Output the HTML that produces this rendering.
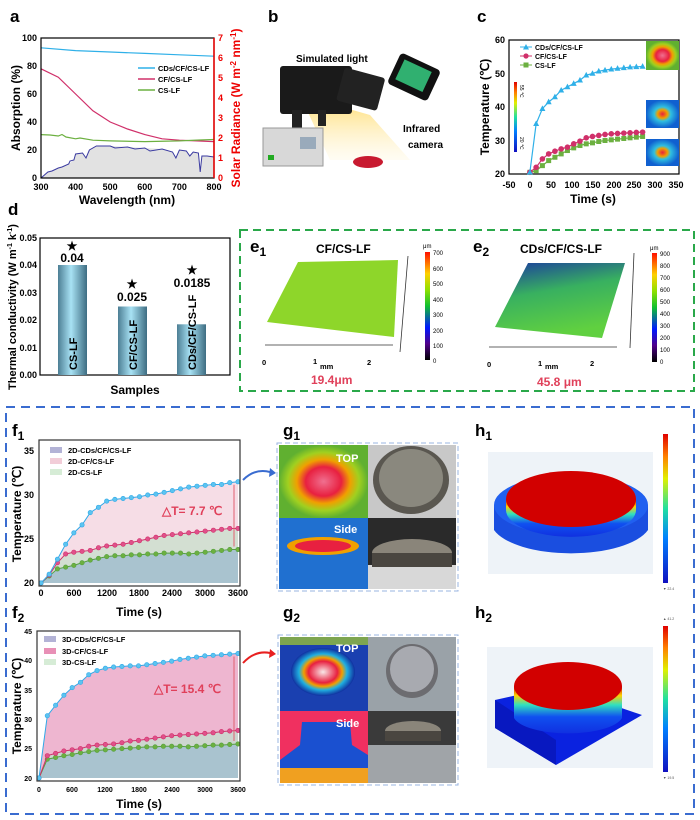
<!DOCTYPE html>
<html><head><meta charset="utf-8"><style>
body{margin:0;background:#fff}
svg{display:block;font-family:"Liberation Sans",Arial,sans-serif}
.t{font-size:9px;font-weight:bold}
.L{font-size:17px;font-weight:bold}
</style></head><body>
<svg id="s" width="700" height="820" viewBox="0 0 700 820" xmlns="http://www.w3.org/2000/svg">
<defs>
<linearGradient id="bar" x1="0" x2="1"><stop offset="0" stop-color="#4d7f95"/><stop offset=".45" stop-color="#a8e2f4"/><stop offset="1" stop-color="#3e6d82"/></linearGradient>
<linearGradient id="jet" x1="0" y1="1" x2="0" y2="0"><stop offset="0" stop-color="#000"/><stop offset=".15" stop-color="#50008a"/><stop offset=".3" stop-color="#0018ff"/><stop offset=".5" stop-color="#10c030"/><stop offset=".65" stop-color="#8fe000"/><stop offset=".8" stop-color="#ffd000"/><stop offset="1" stop-color="#ff1000"/></linearGradient>
<linearGradient id="jet2" x1="0" y1="1" x2="0" y2="0"><stop offset="0" stop-color="#1010c0"/><stop offset=".3" stop-color="#0080ff"/><stop offset=".5" stop-color="#20e0a0"/><stop offset=".7" stop-color="#e0f000"/><stop offset=".85" stop-color="#ff8000"/><stop offset="1" stop-color="#e00000"/></linearGradient>
<linearGradient id="side" x1="0" y1="0" x2="0" y2="1"><stop offset="0" stop-color="#d00000"/><stop offset=".2" stop-color="#ffd000"/><stop offset=".4" stop-color="#30e0c0"/><stop offset=".65" stop-color="#1050f0"/><stop offset="1" stop-color="#1030e0"/></linearGradient>
<linearGradient id="e2g" x1="0" y1="0" x2="0.3" y2="1"><stop offset="0" stop-color="#1a3aa0"/><stop offset=".45" stop-color="#38b060"/><stop offset="1" stop-color="#60d040"/></linearGradient>
<radialGradient id="ir1"><stop offset="0" stop-color="#f07090"/><stop offset=".4" stop-color="#e82040"/><stop offset=".6" stop-color="#f0a000"/><stop offset=".8" stop-color="#a0d020"/><stop offset="1" stop-color="#60b030"/></radialGradient>
<radialGradient id="ir2"><stop offset="0" stop-color="#f8e8e8"/><stop offset=".45" stop-color="#e82040"/><stop offset=".6" stop-color="#f0a000"/><stop offset=".75" stop-color="#20b0e0"/><stop offset="1" stop-color="#1030a0"/></radialGradient>
<radialGradient id="ir3" cx=".5" cy=".5" r=".5"><stop offset="0" stop-color="#e82040"/><stop offset=".3" stop-color="#f0a000"/><stop offset=".5" stop-color="#30c0e0"/><stop offset="1" stop-color="#1060d0"/></radialGradient>
<linearGradient id="cone" x1="0" y1="0" x2="0" y2="1"><stop offset="0" stop-color="#ffd040"/><stop offset="1" stop-color="#fff4d0" stop-opacity=".3"/></linearGradient>
</defs>

<text x="10" y="22" class="L">a</text><text x="268" y="22" class="L">b</text><text x="477" y="22" class="L">c</text>
<text x="8" y="215" class="L">d</text>
<text x="250" y="252" class="L">e<tspan font-size="12" dy="4">1</tspan></text>
<text x="473" y="252" class="L">e<tspan font-size="12" dy="4">2</tspan></text>
<text x="12" y="436" class="L">f<tspan font-size="12" dy="4">1</tspan></text>
<text x="283" y="436" class="L">g<tspan font-size="12" dy="4">1</tspan></text>
<text x="475" y="436" class="L">h<tspan font-size="12" dy="4">1</tspan></text>
<text x="12" y="618" class="L">f<tspan font-size="12" dy="4">2</tspan></text>
<text x="283" y="618" class="L">g<tspan font-size="12" dy="4">2</tspan></text>
<text x="475" y="618" class="L">h<tspan font-size="12" dy="4">2</tspan></text>

<!-- Panel a -->
<g id="pa">
<polygon fill="#e2e2e2" points="41,178 47.9,172 58.3,168 68.7,164 73.9,160 75.6,154 82.5,153 86,158 89.4,150 96.4,146 110.2,146 127.5,147 144.8,148 162.1,149 172.5,152 175.9,158 179.4,150 186.3,151 189.8,156 193.2,152 198.4,153 200.2,172 201.9,156 207.1,156 214,157 214,178"/>
<polyline fill="none" stroke="#3a3aa0" stroke-width="1" points="41,178 47.9,172 52,171 58.3,168 62,167 68.7,164 70,161 73.9,160 75.6,154 82.5,153 86,158 89.4,150 96.4,146 110.2,146 115,148 127.5,147 135,149 144.8,148 150,151 162.1,149 172.5,152 175.9,158 179.4,150 186.3,151 189.8,156 193.2,152 198.4,153 200.2,172 201.9,156 207.1,156 214,157"/>
<polyline fill="none" stroke="#2fb0e8" stroke-width="1.2" points="41,47.8 75.6,50.6 110.2,52 144.8,53.4 179.4,54.8 214,56.2"/>
<polyline fill="none" stroke="#d0306a" stroke-width="1.2" points="41,68.8 58.3,77.2 75.6,94 92.9,110.8 110.2,122 127.5,129 144.8,134.6 162.1,138.8 179.4,140.2 214,141.6"/>
<polyline fill="none" stroke="#6cb040" stroke-width="1.2" points="41,134.6 50,135 58.3,136 62,134.5 66,137 75.6,138.8 80,138 92.9,140.2 110.2,140.9 144.8,141.6 179.4,140.9 200,140 214,139.5"/>
<rect x="41" y="38" width="173" height="140" fill="none" stroke="#000" stroke-width="1.2"/>
<line x1="214" y1="38" x2="214" y2="178" stroke="#e00" stroke-width="1.5"/>
<g class="t" text-anchor="end"><text x="37" y="41">100</text><text x="37" y="69">80</text><text x="37" y="97">60</text><text x="37" y="125">40</text><text x="37" y="153">20</text><text x="37" y="181">0</text></g>
<g class="t" fill="#e00"><text x="218" y="181">0</text><text x="218" y="161">1</text><text x="218" y="141">2</text><text x="218" y="121">3</text><text x="218" y="101">4</text><text x="218" y="81">5</text><text x="218" y="61">6</text><text x="218" y="41">7</text></g>
<g class="t" text-anchor="middle"><text x="41" y="190">300</text><text x="75.6" y="190">400</text><text x="110.2" y="190">500</text><text x="144.8" y="190">600</text><text x="179.4" y="190">700</text><text x="214" y="190">800</text></g>
<text x="127" y="204" text-anchor="middle" font-size="12" font-weight="bold">Wavelength (nm)</text>
<text transform="translate(20,108) rotate(-90)" text-anchor="middle" font-size="12" font-weight="bold">Absorption (%)</text>
<text transform="translate(240,108) rotate(-90)" text-anchor="middle" font-size="12" font-weight="bold" fill="#e00">Solar Radiance (W m<tspan font-size="8" dy="-4">-2</tspan><tspan dy="4"> nm</tspan><tspan font-size="8" dy="-4">-1</tspan><tspan dy="4">)</tspan></text>
<g font-size="7.5" font-weight="bold"><line x1="138" y1="68" x2="155" y2="68" stroke="#2fb0e8" stroke-width="1.5"/><text x="158" y="71">CDs/CF/CS-LF</text>
<line x1="138" y1="79" x2="155" y2="79" stroke="#d0306a" stroke-width="1.5"/><text x="158" y="82">CF/CS-LF</text>
<line x1="138" y1="90" x2="155" y2="90" stroke="#6cb040" stroke-width="1.5"/><text x="158" y="93">CS-LF</text></g>
</g>

<!-- Panel b -->
<g>
<text x="296" y="62" font-size="10" font-weight="bold">Simulated light</text>
<polygon points="300,95 370,115 410,160 330,160" fill="url(#cone)" opacity=".8"/>
<rect x="280" y="66" width="72" height="48" rx="3" fill="#1a1a1a"/>
<rect x="340" y="72" width="42" height="34" rx="3" fill="#222" transform="rotate(15 360 88)"/>
<rect x="292" y="110" width="10" height="18" fill="#222"/><rect x="318" y="110" width="8" height="16" fill="#222"/>
<rect x="263" y="128" width="60" height="38" fill="#d8d8d8" stroke="#999"/>
<rect x="300" y="137" width="16" height="12" fill="#9ab"/>
<rect x="268" y="155" width="6" height="5" fill="#2a2"/>
<ellipse cx="368" cy="162" rx="15" ry="6" fill="#c81a30"/>
<rect x="392" y="60" width="44" height="34" rx="4" fill="#111" transform="rotate(25 414 77)"/>
<rect x="398" y="65" width="30" height="22" fill="#30b070" transform="rotate(25 414 77)"/>
<text x="403" y="132" font-size="10" font-weight="bold">Infrared</text>
<text x="408" y="148" font-size="10" font-weight="bold">camera</text>
</g>

<!-- Panel c -->
<g>
<rect x="509" y="40" width="170" height="134" fill="none" stroke="#000" stroke-width="1.2"/>
<g id="cl"></g>
<rect x="646" y="41" width="33" height="29" fill="url(#ir1)"/>
<rect x="646" y="100" width="33" height="28" fill="url(#ir3)"/>
<rect x="646" y="139" width="33" height="27" fill="url(#ir3)"/>
<rect x="514" y="82" width="3" height="70" fill="url(#jet2)"/>
<text x="520" y="85" font-size="5" transform="rotate(90 520 85)">55 ℃</text>
<text x="520" y="137" font-size="5" transform="rotate(90 520 137)">20 ℃</text>
<g class="t" text-anchor="end"><text x="505" y="43">60</text><text x="505" y="77">50</text><text x="505" y="110">40</text><text x="505" y="144">30</text><text x="505" y="177">20</text></g>
<g class="t" text-anchor="middle"><text x="509" y="188">-50</text><text x="530" y="188">0</text><text x="551" y="188">50</text><text x="572" y="188">100</text><text x="593" y="188">150</text><text x="614" y="188">200</text><text x="634" y="188">250</text><text x="655" y="188">300</text><text x="676" y="188">350</text></g>
<text x="593" y="203" text-anchor="middle" font-size="12" font-weight="bold">Time (s)</text>
<text transform="translate(489,107) rotate(-90)" text-anchor="middle" font-size="12" font-weight="bold">Temperature (℃)</text>
<g font-size="7" font-weight="bold"><text x="535" y="50">CDs/CF/CS-LF</text><text x="535" y="59">CF/CS-LF</text><text x="535" y="68">CS-LF</text></g>
</g>

<!-- Panel d -->
<g>
<rect x="40" y="238" width="190" height="137" fill="none" stroke="#000" stroke-width="1.2"/>
<rect x="58" y="265" width="29" height="110" fill="url(#bar)"/>
<rect x="118" y="306.5" width="29" height="68.5" fill="url(#bar)"/>
<rect x="177" y="324.3" width="29" height="50.7" fill="url(#bar)"/>
<g class="t" text-anchor="end"><text x="37" y="241">0.05</text><text x="37" y="268">0.04</text><text x="37" y="296">0.03</text><text x="37" y="323">0.02</text><text x="37" y="351">0.01</text><text x="37" y="378">0.00</text></g>
<g font-size="12" font-weight="bold" text-anchor="middle"><text x="72" y="262">0.04</text><text x="132" y="301">0.025</text><text x="192" y="287">0.0185</text>
<text x="72" y="250">★</text><text x="132" y="288">★</text><text x="192" y="274">★</text></g>
<g font-size="11" font-weight="bold"><text transform="translate(77,370) rotate(-90)">CS-LF</text><text transform="translate(137,370) rotate(-90)">CF/CS-LF</text><text transform="translate(196,370) rotate(-90)">CDs/CF/CS-LF</text></g>
<text x="135" y="394" text-anchor="middle" font-size="12" font-weight="bold">Samples</text>
<text transform="translate(16,307) rotate(-90)" text-anchor="middle" font-size="11" font-weight="bold">Thermal conductivity (W m<tspan font-size="7" dy="-4">-1</tspan><tspan dy="4"> k</tspan><tspan font-size="7" dy="-4">-1</tspan><tspan dy="4">)</tspan></text>
</g>

<!-- Panel e -->
<rect x="240" y="230" width="454" height="161" fill="none" stroke="#2aa84a" stroke-width="2" stroke-dasharray="8,5"/>
<text x="316" y="253" font-size="12" font-weight="bold">CF/CS-LF</text>
<text x="520" y="253" font-size="12" font-weight="bold">CDs/CF/CS-LF</text>
<polygon points="298,262 398,260 394,337 267,322" fill="#8ed62a"/>
<polygon points="528,263 625,263 602,338 495,327" fill="url(#e2g)"/>
<g stroke="#333" stroke-width=".8" fill="none">
<line x1="265" y1="345" x2="393" y2="345"/><line x1="489" y1="347" x2="617" y2="347"/>
<line x1="408" y1="256" x2="400" y2="352"/><line x1="634" y1="253" x2="630" y2="348"/>
</g>
<rect x="425" y="252" width="5" height="108" fill="url(#jet)"/>
<rect x="652" y="253" width="5" height="109" fill="url(#jet)"/>
<g font-size="6" ><text x="433" y="255">700</text><text x="433" y="271">600</text><text x="433" y="286">500</text><text x="433" y="302">400</text><text x="433" y="317">300</text><text x="433" y="333">200</text><text x="433" y="348">100</text><text x="433" y="363">0</text><text x="423" y="248">μm</text>
<text x="660" y="256">900</text><text x="660" y="268">800</text><text x="660" y="280">700</text><text x="660" y="292">600</text><text x="660" y="304">500</text><text x="660" y="316">400</text><text x="660" y="328">300</text><text x="660" y="340">200</text><text x="660" y="352">100</text><text x="660" y="364">0</text><text x="650" y="250">μm</text></g>
<g font-size="7.5" font-weight="bold"><text x="262" y="365">0</text><text x="313" y="364">1</text><text x="320" y="369">mm</text><text x="367" y="365">2</text>
<text x="487" y="367">0</text><text x="538" y="366">1</text><text x="545" y="369">mm</text><text x="590" y="366">2</text></g>
<text x="311" y="384" font-size="12" font-weight="bold" fill="#e0405a">19.4μm</text>
<text x="537" y="386" font-size="12" font-weight="bold" fill="#e0405a">45.8 μm</text>

<rect x="6" y="407" width="688" height="407" fill="none" stroke="#3a6cd0" stroke-width="2" stroke-dasharray="9,6"/>

<g id="f1g"></g>
<g id="f2g"></g>
<g font-size="7.5" font-weight="bold"><text x="68" y="453">2D-CDs/CF/CS-LF</text><text x="68" y="464">2D-CF/CS-LF</text><text x="68" y="475">2D-CS-LF</text>
<rect x="50" y="447" width="12" height="6" fill="#b3b3d6"/><rect x="50" y="458" width="12" height="6" fill="#f2cdd8"/><rect x="50" y="469" width="12" height="6" fill="#d6ecd6"/>
<text x="62" y="642">3D-CDs/CF/CS-LF</text><text x="62" y="654">3D-CF/CS-LF</text><text x="62" y="665">3D-CS-LF</text>
<rect x="44" y="636" width="12" height="6" fill="#b3b3d6"/><rect x="44" y="648" width="12" height="6" fill="#e890b6"/><rect x="44" y="659" width="12" height="6" fill="#d6ecd6"/></g>
<text x="162" y="515" font-size="12" font-weight="bold" fill="#e0405a">△T= 7.7 ℃</text>
<text x="154" y="693" font-size="12" font-weight="bold" fill="#e0405a">△T= 15.4 ℃</text>
<g class="t" text-anchor="end"><text x="34" y="454">35</text><text x="34" y="498">30</text><text x="34" y="542">25</text><text x="34" y="586">20</text>
<text x="32" y="634" font-size="7">45</text><text x="32" y="663" font-size="7">40</text><text x="32" y="693" font-size="7">35</text><text x="32" y="722" font-size="7">30</text><text x="32" y="751" font-size="7">25</text><text x="32" y="781" font-size="7">20</text></g>
<g class="t" text-anchor="middle"><text x="41" y="596">0</text><text x="74" y="596">600</text><text x="107" y="596">1200</text><text x="139" y="596">1800</text><text x="172" y="596">2400</text><text x="205" y="596">3000</text><text x="238" y="596">3600</text></g>
<g font-size="7" font-weight="bold" text-anchor="middle"><text x="39" y="792">0</text><text x="72" y="792">600</text><text x="105" y="792">1200</text><text x="139" y="792">1800</text><text x="172" y="792">2400</text><text x="205" y="792">3000</text><text x="238" y="792">3600</text></g>
<text x="139" y="616" text-anchor="middle" font-size="12" font-weight="bold">Time (s)</text>
<text x="139" y="808" text-anchor="middle" font-size="12" font-weight="bold">Time (s)</text>
<text transform="translate(21,514) rotate(-90)" text-anchor="middle" font-size="12" font-weight="bold">Temperature (℃)</text>
<text transform="translate(21,706) rotate(-90)" text-anchor="middle" font-size="12" font-weight="bold">Temperature (℃)</text>
<path d="M243,480 Q255,468 270,472" fill="none" stroke="#3a6cd0" stroke-width="2"/><polygon points="270,468 276,473 269,477" fill="#3a6cd0"/>
<path d="M243,663 Q255,650 270,653" fill="none" stroke="#e82020" stroke-width="2"/><polygon points="270,649 276,654 269,658" fill="#e82020"/>

<!-- g1 -->
<rect x="279" y="445" width="89" height="73" fill="url(#ir1)"/>
<rect x="368" y="445" width="88" height="73" fill="#c8c8c8"/>
<ellipse cx="411" cy="480" rx="38" ry="34" fill="#5a5750"/><ellipse cx="411" cy="478" rx="32" ry="29" fill="#8a887e"/>
<rect x="279" y="518" width="89" height="71" fill="#2070d0"/>
<ellipse cx="323" cy="546" rx="36" ry="9" fill="#f0a000"/><ellipse cx="323" cy="546" rx="28" ry="6" fill="#e82040"/>
<rect x="368" y="518" width="88" height="71" fill="#2a2a2a"/><rect x="368" y="565" width="88" height="24" fill="#d8d8d8"/>
<ellipse cx="412" cy="553" rx="40" ry="14" fill="#8a857a"/><rect x="372" y="553" width="80" height="14" fill="#4a4640"/>
<text x="336" y="462" font-size="11" font-weight="bold" fill="#fff">TOP</text>
<text x="334" y="533" font-size="11" font-weight="bold" fill="#fff">Side</text>
<rect x="277" y="443" width="181" height="148" fill="none" stroke="#9ab4e0" stroke-width="1" stroke-dasharray="5,3"/>
<!-- g2 -->
<rect x="280" y="637" width="88" height="74" fill="#1a40b0"/>
<ellipse cx="323" cy="672" rx="32" ry="24" fill="url(#ir2)"/>
<rect x="280" y="637" width="88" height="8" fill="#a8d028" opacity=".7"/>
<rect x="368" y="637" width="88" height="74" fill="#9aa2a8"/><ellipse cx="412" cy="671" rx="26" ry="27" fill="#6c6c70"/><ellipse cx="412" cy="669" rx="22" ry="23" fill="#a8aab0"/>
<rect x="280" y="711" width="88" height="72" fill="#f03060"/>
<path d="M280,760 L300,745 L302,722 L350,722 L352,745 L368,755 L368,783 L280,783Z" fill="#1a50d0"/>
<rect x="280" y="768" width="88" height="15" fill="#f0a020"/>
<rect x="368" y="711" width="88" height="72" fill="#3a3a3a"/><rect x="368" y="745" width="88" height="38" fill="#a0a4a8"/>
<ellipse cx="413" cy="731" rx="28" ry="10" fill="#8a857a"/><rect x="385" y="731" width="56" height="10" fill="#4a4640"/>
<text x="336" y="652" font-size="11" font-weight="bold" fill="#fff">TOP</text>
<text x="336" y="727" font-size="11" font-weight="bold" fill="#fff">Side</text>
<rect x="278" y="635" width="180" height="150" fill="none" stroke="#9ab4e0" stroke-width="1" stroke-dasharray="5,3"/>

<!-- h1 -->
<rect x="488" y="452" width="165" height="122" fill="#eef3f8"/>
<path d="M494,505 L494,530 A80,32 0 0 0 648,530 L648,505Z" fill="#1a4ee0"/>
<ellipse cx="571" cy="505" rx="77" ry="30" fill="#2060f0"/>
<path d="M506,499 L506,510 A63,26 0 0 0 636,510 L636,499Z" fill="url(#side)"/>
<ellipse cx="571" cy="499" rx="65" ry="28" fill="#d20000"/>
<rect x="663" y="434" width="5" height="149" fill="url(#jet2)"/>
<g font-size="3.5" fill="#555"><text x="663" y="590">▼ 22.4</text></g>
<!-- h2 -->
<rect x="487" y="647" width="166" height="121" fill="#eef3f8"/>
<polygon points="495,700 557,686 642,715 556,765 495,728" fill="#0a22e0"/>
<polygon points="495,700 495,728 556,765 556,740" fill="#0818c0"/>
<path d="M514,686 L514,718 A55,19 0 0 0 622,718 L622,686Z" fill="url(#side)"/>
<ellipse cx="568" cy="686" rx="54" ry="24" fill="#d20000"/>
<rect x="663" y="626" width="5" height="146" fill="url(#jet2)"/>
<g font-size="3.5" fill="#555"><text x="663" y="620">▲ 41.2</text><text x="663" y="779">▼ 19.5</text></g>
</svg>
<script>
var NS="http://www.w3.org/2000/svg",S=document.getElementById('s');
function el(p,t,a){var e=document.createElementNS(NS,t);for(var k in a)e.setAttribute(k,a[k]);p.appendChild(e);return e;}
(function(){var g=document.getElementById('cl');
var B=[20.5,35,39.5,41.5,43,45,46,47,48,49.5,50,50.7,51,51.3,51.5,51.7,51.9,52,52.1],
P=[20.5,22,24.5,26,26.8,27.5,28,29,29.8,30.8,31.2,31.5,31.8,32,32.1,32.2,32.3,32.4,32.5],
G=[20.5,21,22.5,24,25,26,27,27.8,28.5,29,29.3,29.7,30,30.2,30.4,30.6,30.8,31,31.2];
function X(i){return 509+(i*15+50)*0.4175}function Y(v){return 174-(v-20)*3.35}
[[G,'#6cb040','s'],[P,'#d0306a','c'],[B,'#2fb0e8','t']].forEach(function(d){
var pts=d[0].map(function(v,i){return X(i)+','+Y(v)}).join(' ');
el(g,'polyline',{points:pts,fill:'none',stroke:d[1],'stroke-width':1.2});
d[0].forEach(function(v,i){var x=X(i),y=Y(v);
if(d[2]=='s')el(g,'rect',{x:x-2.5,y:y-2.5,width:5,height:5,fill:d[1]});
else if(d[2]=='c')el(g,'circle',{cx:x,cy:y,r:2.8,fill:d[1]});
else el(g,'polygon',{points:(x)+','+(y-3.3)+' '+(x-3)+','+(y+2.3)+' '+(x+3)+','+(y+2.3),fill:d[1]});});
});
el(g,'line',{x1:520,y1:47,x2:532,y2:47,stroke:'#2fb0e8'});el(g,'polygon',{points:'526,44 523,49.5 529,49.5',fill:'#2fb0e8'});
el(g,'line',{x1:520,y1:56,x2:532,y2:56,stroke:'#d0306a'});el(g,'circle',{cx:526,cy:56,r:2.6,fill:'#d0306a'});
el(g,'line',{x1:520,y1:65,x2:532,y2:65,stroke:'#6cb040'});el(g,'rect',{x:523.5,y:62.5,width:5,height:5,fill:'#6cb040'});
})();
function fplot(id,x0,x1,y0,ky,top,B,P,G,cols){
var g=document.getElementById(id);function X(i){return x0+i*150*(x1-x0)/3600}function Y(v){return y0-(v-20)*ky}
function line(a){return a.map(function(v,i){return X(i)+','+Y(v)})}
var bot=y0;
el(g,'polygon',{points:line(G).join(' ')+' '+X(24)+','+bot+' '+X(0)+','+bot,fill:cols[0]});
el(g,'polygon',{points:line(P).join(' ')+' '+line(G).reverse().join(' '),fill:cols[1]});
el(g,'polygon',{points:line(B).join(' ')+' '+line(P).reverse().join(' '),fill:cols[2]});
[[G,'#55a040','#6cb040'],[P,'#d0306a','#e0508a'],[B,'#2fa8e8','#5cc4f0']].forEach(function(d){
el(g,'polyline',{points:line(d[0]).join(' '),fill:'none',stroke:d[1],'stroke-width':1});
d[0].forEach(function(v,i){el(g,'circle',{cx:X(i),cy:Y(v),r:2.2,fill:d[2],stroke:d[1],'stroke-width':.6});});});
el(g,'line',{x1:X(24)-4,y1:Y(B[24])+3,x2:X(24)-4,y2:Y(G[24])-3,stroke:'#e06070','stroke-width':1});
el(g,'rect',{x:x0-2,y:top,width:x1-x0+4,height:bot-top+3,fill:'none',stroke:'#333','stroke-width':1.2});
}
fplot('f1g',41,238,583,8.8,440,
[20,21,22.7,24.4,25.7,26.6,28,28.6,29.3,29.5,29.6,29.7,29.8,30,30.1,30.3,30.5,30.7,30.9,31,31.1,31.2,31.2,31.4,31.5],
[20,20.9,22.3,23.3,23.5,23.6,23.7,24,24.2,24.3,24.4,24.6,24.8,25,25.2,25.4,25.5,25.6,25.7,25.8,25.9,26,26.1,26.2,26.2],
[20,20.8,21.6,21.8,22,22.3,22.6,22.8,23,23.1,23.1,23.2,23.2,23.3,23.3,23.4,23.4,23.4,23.3,23.4,23.5,23.6,23.7,23.8,23.8],
['#a9c3cf','#d3dfd2','#f6dde6']);
fplot('f2g',39,238,778,5.87,631,
[20,30.6,32.4,34.1,35.4,36.3,37.6,38.3,38.7,38.9,39,39.1,39.1,39.3,39.5,39.7,39.9,40.2,40.4,40.6,40.8,40.9,41,41.1,41.2],
[20,23.8,24.2,24.6,24.8,25,25.4,25.6,25.7,25.8,26,26.3,26.4,26.6,26.8,27,27.2,27.3,27.4,27.5,27.6,27.7,27.9,28,28.1],
[20,23.2,23.5,23.8,24,24.3,24.5,24.7,24.8,24.9,25,25.1,25.2,25.3,25.3,25.4,25.4,25.4,25.3,25.4,25.5,25.6,25.6,25.7,25.8],
['#a9c3cf','#cdd6cf','#eeb6d0']);
</script>
</body></html>
